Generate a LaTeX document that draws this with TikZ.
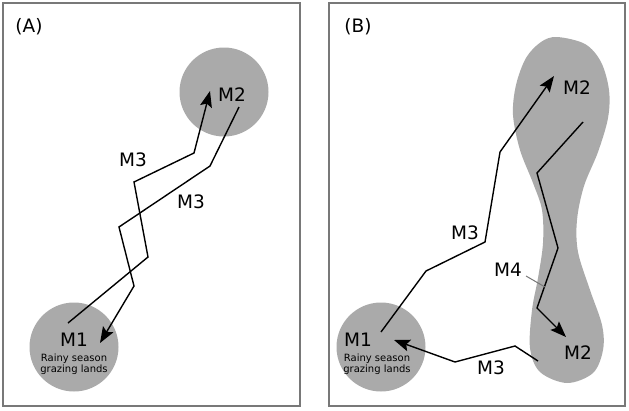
\documentclass[tikz,border=0pt]{standalone}
\usepackage{fontspec}
\setmainfont{DejaVu Sans}
\usetikzlibrary{arrows.meta}
\definecolor{zonegray}{RGB}{170,170,170}
\definecolor{framegray}{RGB}{120,120,120}
\begin{document}
\begin{tikzpicture}[x=1pt,y=-1pt,
  frame/.style={draw=framegray,line width=1.3pt},
  zone/.style={circle,fill=zonegray,minimum size=89pt,inner sep=0pt},
  route/.style={draw=black,line width=1.4pt,line join=miter},
  routearrow/.style={route,-{Stealth[length=16pt,width=12pt,inset=3pt]}},
  lab/.style={font=\fontsize{18.5}{22}\selectfont,inner sep=0pt},
  small/.style={font=\fontsize{10}{11.4}\selectfont,align=center,inner sep=0pt}]
\useasboundingbox (0,0) rectangle (629,410);
% frames
\draw[frame] (3,3) rectangle (300,406);
\draw[frame] (329,3) rectangle (625,406);
% ---------- Panel A ----------
\node[zone] (a1) at (74,347) {};
\node[zone] (a2) at (224,92) {};
\coordinate (p1a) at (68,323);
\coordinate (p1b) at (148,257);
\coordinate (p1c) at (134,182);
\coordinate (p1d) at (194,153);
\coordinate (p1e) at (210,91);
\draw[routearrow] (p1a) -- (p1b) -- (p1c) -- (p1d) -- (p1e);
\coordinate (p2a) at (239,107);
\coordinate (p2b) at (210,166);
\coordinate (p2c) at (119,227);
\coordinate (p2d) at (134,286);
\coordinate (p2e) at (100,343);
\draw[routearrow] (p2a) -- (p2b) -- (p2c) -- (p2d) -- (p2e);
\node[lab] (ta) at (29,27) {(A)};
\node[lab] (ta2) at (232,95) {M2};
\node[lab] (ta1) at (74,340) {M1};
\node[small] (tar) at (74,364) {Rainy season\\grazing lands};
\node[lab] (tam3a) at (133,160) {M3};
\node[lab] (tam3b) at (191,202) {M3};
% ---------- Panel B ----------
\node[zone] (b1) at (381,347) {};
\fill[zonegray] plot[smooth cycle,tension=0.55] coordinates {
  (557,37) (585,44) (601,62) (609,90) (608,118) (598,152)
  (584,186) (577,220) (578,252) (590,290) (602,325) (603,350) (593,373)
  (567,383) (540,372) (530,348) (532,310) (538,278) (543,243) (542,210)
  (533,183) (520,150) (513,115) (516,85) (526,58) (541,42)};
\coordinate (p3a) at (381,332);
\coordinate (p3b) at (426,271);
\coordinate (p3c) at (485,242);
\coordinate (p3d) at (500,152);
\coordinate (p3e) at (554,76);
\draw[routearrow] (p3a) -- (p3b) -- (p3c) -- (p3d) -- (p3e);
\coordinate (p4a) at (583,122);
\coordinate (p4b) at (537,173);
\coordinate (p4c) at (558,248);
\coordinate (p4d) at (537,308);
\coordinate (p4e) at (566,337);
\draw[routearrow] (p4a) -- (p4b) -- (p4c) -- (p4d) -- (p4e);
\coordinate (p5a) at (538,361);
\coordinate (p5b) at (515,346);
\coordinate (p5c) at (455,362);
\coordinate (p5d) at (394,340);
\draw[routearrow] (p5a) -- (p5b) -- (p5c) -- (p5d);
\node[lab] (tb) at (358,27) {(B)};
\node[lab] (tb2a) at (577,88) {M2};
\node[lab] (tb2b) at (578,353) {M2};
\node[lab] (tb1) at (358,340) {M1};
\node[small] (tbr) at (377,364) {Rainy season\\grazing lands};
\node[lab] (tbm3a) at (465,233) {M3};
\node[lab] (tbm3b) at (491,368) {M3};
\node[lab] (tbm4) at (508,270) {M4};
\coordinate (l4a) at (526,276);
\coordinate (l4b) at (545,287);
\draw[framegray,line width=1pt] (l4a) -- (l4b);
\end{tikzpicture}
\end{document}
